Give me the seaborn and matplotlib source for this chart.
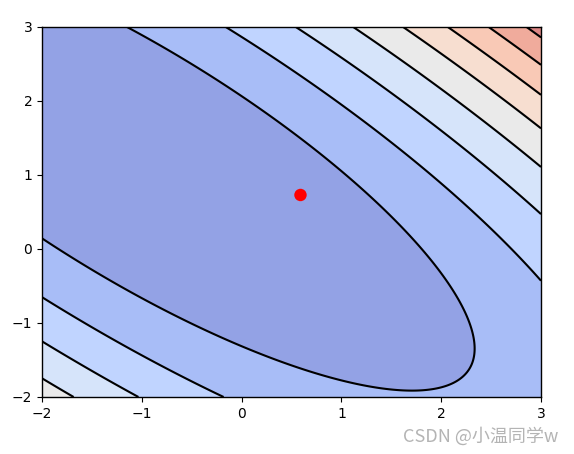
import numpy as np
import pandas as pd
import matplotlib
matplotlib.use("Agg")
import matplotlib.pyplot as plt
import seaborn as sns

# quadratic surface read from the contour shapes:
# f = A*x^2 + B*x*y + C*y^2 + D*x + E*y + F
quad_coef = [0.2449, 0.4410, 0.2990, 0.0076, -0.2249, 0.1886]
levels = [0, 1, 2, 3, 4, 5, 6, 7, 8, 9]
x_range = [-2, 3]
y_range = [-2, 3]
ticks = [-2, -1, 0, 1, 2, 3]
point_x = [0.59]
point_y = [0.73]

sns.set_style("ticks")
plt.rcParams["font.family"] = ["DejaVu Sans"]

fig = plt.figure(figsize=(5.74, 4.54), dpi=100)
ax = fig.add_axes([42 / 574, 57 / 454, 499 / 574, 370 / 454])

xs = np.linspace(x_range[0], x_range[1], 500)
ys = np.linspace(y_range[0], y_range[1], 500)
X, Y = np.meshgrid(xs, ys)
A, B, C, D, E, F = quad_coef
Z = A * X ** 2 + B * X * Y + C * Y ** 2 + D * X + E * Y + F

ax.contourf(X, Y, Z, levels=levels, alpha=0.6, cmap="coolwarm")
ax.contour(X, Y, Z, levels=levels, colors="black", linewidths=1.5)

pts = pd.DataFrame({"x": point_x, "y": point_y})
sns.scatterplot(data=pts, x="x", y="y", ax=ax, color="red", s=80,
                edgecolor="none", zorder=5)
ax.set_xlim(x_range)
ax.set_ylim(y_range)
ax.set_xticks(ticks)
ax.set_yticks(ticks)
ax.set_xlabel("")
ax.set_ylabel("")
for s in ax.spines.values():
    s.set_visible(True)
    s.set_color("black")
    s.set_linewidth(1.0)
ax.tick_params(colors="black", labelsize=10, length=3.5, width=0.8)

fig.text(558 / 574, 1 - 436 / 454, "CSDN @小温同学w", ha="right", va="center",
         fontsize=13, color="#b4b4b4",
         family=["Noto Sans CJK SC", "DejaVu Sans"])

fig.savefig("out.png", dpi=100)
